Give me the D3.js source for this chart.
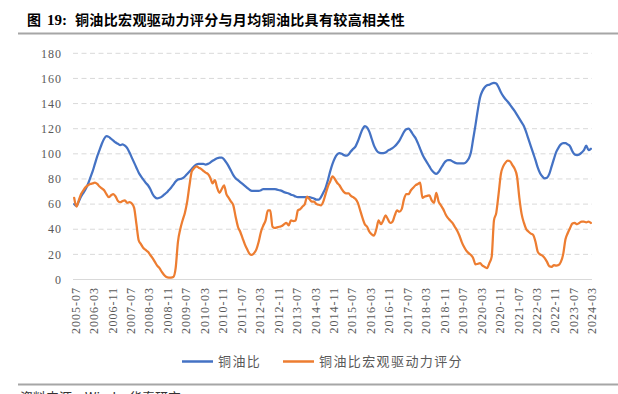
<!DOCTYPE html>
<html>
<head>
<meta charset="utf-8">
<script src="https://cdn.jsdelivr.net/npm/d3@7"></script>
<style>
  body { margin: 0; background: #fff; }
  svg { display: block; }
</style>
</head>
<body>
<svg id="chart" width="618" height="394"></svg>
<script>
// ---------------- data ----------------
let startYear = 2005, startMonth = 7, monthCount = 225;
let months = [];
for (let i = 0; i < monthCount; i++) {
  let m = startMonth - 1 + i;
  let y = startYear + Math.floor(m / 12);
  let mm = (m % 12) + 1;
  months.push(y + '-' + (mm < 10 ? '0' + mm : mm));
}

// 铜油比
let copperOil = [
  60, 58.5, 62, 66, 69, 72, 76, 81, 86, 92, 98, 103, 108, 112, 114, 113.5, 112, 110.5, 109, 108,
  107, 107.5, 106.5, 104.5, 101, 97, 93, 89, 85, 82, 79.5, 77, 75, 72, 68, 65.5, 64.5, 65, 66, 67.5,
  69, 71, 73, 75.5, 78, 79.5, 80, 80.5, 82, 84, 86, 88, 90, 91.5, 92, 92, 92, 91.5, 92, 93,
  94.5, 95.5, 96.5, 97, 97, 95.5, 93, 90, 86.5, 83, 80.5, 79, 77.5, 76, 74.5, 73, 71.5, 70.5, 70.5, 70.5,
  70.5, 71, 72, 72, 72, 72, 72, 72, 71.5, 71, 70.5, 69.5, 69, 68.5, 67.5, 67, 66, 65.5, 65.5, 65.5,
  65.5, 65.5, 65.5, 65, 64.5, 63.5, 63.5, 65.5, 69, 73, 79, 86, 92, 96.5, 99.5, 100.5, 100, 99, 98.5, 99.5,
  102, 104, 106, 110, 115, 119.5, 122, 121, 117.5, 112, 106.5, 103, 101, 100.5, 100.5, 101, 102.5, 103.5, 104.5, 106,
  108, 110.5, 114, 117.5, 119.5, 120, 118, 115, 112.5, 108.5, 104, 99.5, 96, 93, 90, 87, 85, 84, 85.5, 88.5,
  91.5, 94, 95, 95, 94, 93, 92.5, 92.5, 92.5, 92.5, 93.5, 96, 101, 112, 123, 135, 145, 150, 153, 154.5,
  155, 156, 156.5, 156, 153, 149, 146, 143.5, 141.5, 139, 136.5, 134, 131, 128, 125, 122, 117, 111.5, 106, 100.5,
  95, 89, 84.5, 82, 80.5, 81, 84, 90, 96, 101.5, 105, 107.5, 108.5, 108.5, 107.5, 106, 102, 99.5, 99, 99.5,
  101, 103, 106.5, 103, 104
];

// 铜油比宏观驱动力评分
let macroScore = [
  65, 58, 63, 68, 71, 73.5, 75, 76, 76.5, 77, 76, 74, 72.5, 71, 68, 65.5, 67, 68, 66, 62.5,
  61.5, 62.5, 63, 61, 61.5, 60.5, 57, 44, 31, 28, 25, 23.5, 22, 19.5, 17, 14, 11, 9, 6, 3.5,
  2, 1.5, 1.5, 2, 9, 30, 40, 47, 53, 62, 75, 86, 88.5, 90, 89, 88, 86.5, 85, 84, 81,
  76.5, 79, 73, 69, 72, 75, 68, 65, 62, 59, 50, 42, 38, 33, 28, 24, 20.5, 19.5, 21, 24,
  30, 38, 43, 47, 55, 55, 42, 41, 41.5, 42, 42.5, 44, 45, 43, 47, 46.5, 47, 55, 56, 58,
  60, 66, 64, 62, 62, 60, 59.5, 59, 62, 68, 74, 78, 82, 80, 77, 75, 72, 69.5, 68.5, 68.5,
  66.5, 65.5, 64, 61, 55, 49, 44, 42, 38, 36, 35, 40, 47, 44, 47, 51, 48, 45, 46, 51,
  55, 54, 56, 64, 68, 68, 71, 73, 75, 76, 77, 65, 66, 66.5, 67, 63, 61, 69, 62, 59,
  56, 52, 49, 47, 45, 42, 39, 35, 30, 26, 23, 21, 19.5, 17, 12, 12.5, 13, 11, 10, 9,
  13, 18, 47, 53, 68, 84, 90, 93, 94.5, 94, 91, 88, 82, 65, 52, 45, 40, 38, 36.5, 35.5,
  30, 22, 20, 19, 17, 14, 10.5, 10, 11.5, 11, 11.5, 14, 20, 32, 37, 41, 44.5, 45, 44, 45,
  46, 46, 45.5, 46, 45
];

let yTicks = [0, 20, 40, 60, 80, 100, 120, 140, 160, 180];
let tickEvery = 8;
let seriesNames = ['铜油比', '铜油比宏观驱动力评分'];
let seriesColors = ['#4472C4', '#ED7D31'];

// ---------------- drawing ----------------
let svg = d3.select('#chart');

let x = d3.scaleBand().domain(months).range([73, 592]);
let y = d3.scaleLinear().domain([0, 180]).range([279.5, 53.3]);
let cx = (m) => x(m) + x.bandwidth() / 2;

// title
let title = svg.append('text')
  .attr('x', 27).attr('y', 25)
  .attr('font-family', '"Noto Sans CJK SC", sans-serif')
  .attr('font-weight', 'bold')
  .attr('font-size', 14)
  .attr('fill', '#000');
title.append('tspan').text('图');
title.append('tspan').attr('x', 47)
  .attr('font-family', '"Liberation Serif", serif')
  .attr('font-size', 15)
  .text('19:');
title.append('tspan').attr('x', 75).attr('letter-spacing', 0.35)
  .text('铜油比宏观驱动力评分与月均铜油比具有较高相关性');

svg.append('line')
  .attr('x1', 18).attr('x2', 618).attr('y1', 33.5).attr('y2', 33.5)
  .attr('stroke', '#a6a6a6').attr('stroke-width', 2);

// gridlines
svg.append('g').selectAll('line')
  .data(yTicks.filter(d => d > 0))
  .enter()
  .append('line')
  .attr('x1', 73).attr('x2', 592)
  .attr('y1', d => y(d)).attr('y2', d => y(d))
  .attr('stroke', '#d9d9d9')
  .attr('stroke-width', 1)
  .attr('stroke-dasharray', '5,3.5');

svg.append('line')
  .attr('x1', 73).attr('x2', 592).attr('y1', y(0)).attr('y2', y(0))
  .attr('stroke', '#d9d9d9').attr('stroke-width', 1);

// y labels
svg.append('g').selectAll('text')
  .data(yTicks)
  .enter()
  .append('text')
  .attr('x', 62)
  .attr('y', d => y(d))
  .attr('dy', '0.35em')
  .attr('text-anchor', 'end')
  .attr('font-family', '"Liberation Serif", serif')
  .attr('font-size', 12)
  .attr('letter-spacing', 1)
  .attr('fill', '#595959')
  .text(d => d);

// x labels
svg.append('g').selectAll('text')
  .data(months.filter((d, i) => i % tickEvery === 0))
  .enter()
  .append('text')
  .attr('transform', d => 'translate(' + (cx(d) + 1.5) + ',287) rotate(-90)')
  .attr('text-anchor', 'end')
  .attr('dominant-baseline', 'central')
  .attr('font-family', '"Liberation Serif", serif')
  .attr('font-size', 12)
  .attr('letter-spacing', 1)
  .attr('fill', '#595959')
  .text(d => d);

// lines
let line = d3.line()
  .x((d, i) => cx(months[i]))
  .y(d => y(d))
  .curve(d3.curveMonotoneX);

[copperOil, macroScore].forEach((s, k) => {
  svg.append('path')
    .datum(s)
    .attr('d', line)
    .attr('fill', 'none')
    .attr('stroke', seriesColors[k])
    .attr('stroke-width', 2.25)
    .attr('stroke-linejoin', 'round')
    .attr('stroke-linecap', 'round');
});

// legend
let legendX = [182, 283];
seriesNames.forEach((name, k) => {
  svg.append('line')
    .attr('x1', legendX[k]).attr('x2', legendX[k] + 31)
    .attr('y1', 361.5).attr('y2', 361.5)
    .attr('stroke', seriesColors[k]).attr('stroke-width', 2.5);
  svg.append('text')
    .attr('x', legendX[k] + 36).attr('y', 361.5)
    .attr('dy', '0.36em')
    .attr('font-family', '"Noto Sans CJK SC", sans-serif')
    .attr('font-size', 13)
    .attr('letter-spacing', 1.4)
    .attr('fill', '#595959')
    .text(name);
});

// bottom rule and source (cut off by the frame)
svg.append('line')
  .attr('x1', 18).attr('x2', 618).attr('y1', 384.5).attr('y2', 384.5)
  .attr('stroke', '#a6a6a6').attr('stroke-width', 2);

svg.append('text')
  .attr('x', 20).attr('y', 402)
  .attr('font-family', '"Noto Sans CJK SC", sans-serif')
  .attr('font-size', 13)
  .attr('fill', '#333')
  .text('资料来源：Wind，华泰研究');
</script>
</body>
</html>
